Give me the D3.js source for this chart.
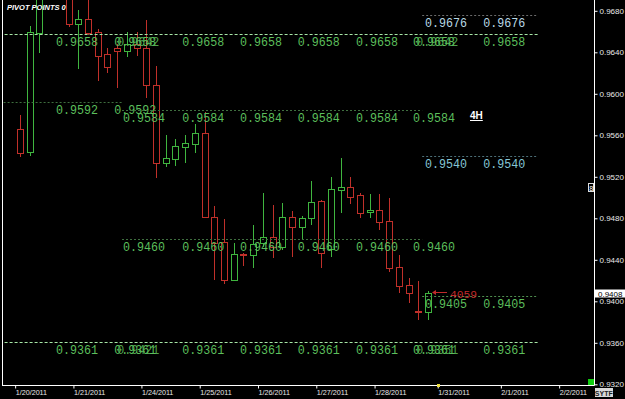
<!DOCTYPE html>
<html><head><meta charset="utf-8">
<script src="https://cdn.jsdelivr.net/npm/d3@7/dist/d3.min.js"></script>
<style>html,body{margin:0;padding:0;background:#000;overflow:hidden}</style>
</head><body>
<svg id="chart" width="625" height="399"></svg>
<script>
// ---------- DATA ----------
const title = "PIVOT POINTS 0";
const timeframe = "4H";
const barOpen  = [0.9566,0.9544,0.9659,0.9712,0.9716,0.9700,0.9667,0.9672,0.9660,0.9638,0.9644,0.9641,0.9648,0.9644,0.9608,0.9533,0.9537,0.9549,0.9552,0.9562,0.9481,0.9457,0.9421,0.9446,0.9445,0.9456,0.9462,0.9452,0.9481,0.9472,0.9480,0.9497,0.9450,0.9507,0.9510,0.9502,0.9486,0.9488,0.9477,0.9433,0.9416,0.9391,0.9390];
const barHigh  = [0.9580,0.9665,0.9720,0.9725,0.9722,0.9706,0.9681,0.9695,0.9662,0.9644,0.9648,0.9660,0.9660,0.9671,0.9627,0.9560,0.9556,0.9560,0.9571,0.9582,0.9492,0.9479,0.9456,0.9447,0.9474,0.9504,0.9493,0.9495,0.9487,0.9482,0.9516,0.9498,0.9520,0.9538,0.9520,0.9504,0.9503,0.9503,0.9500,0.9445,0.9422,0.9420,0.9410];
const barLow   = [0.9539,0.9540,0.9639,0.9700,0.9694,0.9664,0.9624,0.9657,0.9612,0.9620,0.9606,0.9635,0.9636,0.9596,0.9519,0.9529,0.9530,0.9533,0.9543,0.9480,0.9421,0.9417,0.9420,0.9434,0.9432,0.9452,0.9442,0.9449,0.9443,0.9459,0.9474,0.9432,0.9443,0.9485,0.9494,0.9480,0.9480,0.9469,0.9428,0.9408,0.9398,0.9382,0.9382];
const barClose = [0.9543,0.9660,0.9712,0.9716,0.9700,0.9667,0.9672,0.9659,0.9636,0.9626,0.9641,0.9648,0.9644,0.9608,0.9533,0.9538,0.9550,0.9553,0.9562,0.9481,0.9456,0.9421,0.9446,0.9445,0.9455,0.9462,0.9452,0.9481,0.9472,0.9480,0.9496,0.9447,0.9508,0.9510,0.9501,0.9485,0.9488,0.9476,0.9432,0.9415,0.9408,0.9390,0.9408];

const priceTicks = [0.9680,0.9640,0.9600,0.9560,0.9520,0.9480,0.9440,0.9400,0.9360,0.9320];
const dateLabels = ["1/20/2011","1/21/2011","1/24/2011","1/25/2011","1/26/2011","1/27/2011","1/28/2011","1/31/2011","2/1/2011","2/2/2011"];
const dateStartBar = [0,6,13,19,25,31,37,43.5,50,56];

// pivot levels: value, start bar, end bar, kind, label bars
const pivotValues = [0.9676,0.9658,0.9592,0.9584,0.9540,0.9460,0.9405,0.9361];
const pivotKinds  = ["res","main","dim","dim","sup","dim","cur","main"];
const pivotFrom   = [41.4,-2.1,-2.1,10.5,41.4,10.5,41.4,-2.1];
const pivotTo     = [53.3,53.3,10.5,41.4,53.3,41.4,53.3,53.3];
const pivotLabelBars = [
  [41.7,47.7],
  [3.7,9.7,16.7,22.65,28.6,34.6,40.45,47.7],
  [3.7,9.7],
  [10.6,16.7,22.65,28.6,34.6,40.45],
  [41.7,47.7],
  [10.6,16.7,22.65,28.6,34.6,40.45],
  [41.7,47.7],
  [3.7,9.7,16.7,22.65,28.6,34.6,40.45,47.7]
];
// overlapping labels of the previous period (drawn on top of some slots)
const ghostValues = [0.9642,0.9642,0.9421,0.9351];
const ghostLevel  = [0.9658,0.9658,0.9361,0.9361];
const ghostBars   = [10.0,40.8,10.0,40.8];

// ---------- DRAW ----------
const svg = d3.select("#chart");
const W = 625, H = 399;
const plot = {left:2, right:594, top:0, bottom:385};

const x = d3.scaleLinear().domain([0,42]).range([20,428]);
const y = d3.scaleLinear().domain([0.9680,0.9320]).range([10.8,384.3]);

svg.append("rect").attr("width",W).attr("height",H).attr("fill","#000");

svg.append("defs").append("clipPath").attr("id","clip")
  .append("rect").attr("x",plot.left+1).attr("y",plot.top)
  .attr("width",plot.right-plot.left-1).attr("height",plot.bottom-plot.top);

const g = svg.append("g").attr("clip-path","url(#clip)");

// candles
const green = "#3fb53f", red = "#c0302a";
const bars = d3.range(barOpen.length);
const cg = g.append("g");
bars.forEach(i=>{
  const cx = Math.round(x(i));
  const up = barClose[i] >= barOpen[i];
  const col = up ? green : red;
  const top = Math.round(y(Math.max(barOpen[i],barClose[i])));
  const bot = Math.round(y(Math.min(barOpen[i],barClose[i])));
  cg.append("line").attr("x1",cx+0.5).attr("x2",cx+0.5)
    .attr("y1",Math.round(y(barHigh[i]))).attr("y2",Math.round(y(barLow[i])))
    .attr("stroke",col).attr("stroke-width",1);
  cg.append("rect").attr("x",cx-2.5).attr("width",6)
    .attr("y",top+0.5).attr("height",Math.max(1,bot-top))
    .attr("fill","#000").attr("stroke",col).attr("stroke-width",1);
});

// pivot lines
const lineStyle = {
  main:{stroke:"#a6e6a6", dash:"3,2", label:"#5cbf5c"},
  dim:{stroke:"#3e6e3e", dash:"2,2", label:"#5cbf5c"},
  res:{stroke:"#6a6a6a", dash:"2,2", label:"#b9d9e6"},
  sup:{stroke:"#4d7078", dash:"2,2", label:"#86c6d6"},
  cur:{stroke:"#4f8f4f", dash:"2,2", label:"#5cbf5c"}
};
const pg = svg.append("g").attr("clip-path","url(#clip)");
pivotValues.forEach((v,k)=>{
  const st = lineStyle[pivotKinds[k]];
  const yy = Math.round(y(v))+0.5;
  pg.append("line").attr("x1",x(pivotFrom[k])).attr("x2",x(pivotTo[k]))
    .attr("y1",yy).attr("y2",yy).attr("stroke",st.stroke)
    .attr("stroke-dasharray",st.dash).attr("stroke-width",1);
  pivotLabelBars[k].forEach(b=>{
    pg.append("text").attr("x",x(b)).attr("y",yy+11.5)
      .attr("fill",st.label).attr("font-family","'Liberation Mono', 'DejaVu Sans Mono', monospace")
      .attr("font-size",12).attr("textLength",42).attr("lengthAdjust","spacingAndGlyphs")
      .text(v.toFixed(4));
  });
});
ghostValues.forEach((v,k)=>{
  pg.append("text").attr("x",x(ghostBars[k])).attr("y",Math.round(y(ghostLevel[k]))+12)
    .attr("fill","#5cbf5c").attr("opacity",0.85)
    .attr("font-family","'Liberation Mono', 'DejaVu Sans Mono', monospace")
    .attr("font-size",12).attr("textLength",42).attr("lengthAdjust","spacingAndGlyphs")
    .text(v.toFixed(4));
});

// red pointer near current pivot
const lastClose = barClose[barClose.length-1];
const ay = Math.round(y(pivotValues[6]))-3.5;
pg.append("line").attr("x1",x(42)+19).attr("x2",x(42)+5).attr("y1",ay).attr("y2",ay)
  .attr("stroke","#c02a2a").attr("stroke-width",1);
pg.append("path").attr("d",`M${x(42)+4},${ay} l4,-2.5 l0,5 z`).attr("fill","#c02a2a");
pg.append("text").attr("x",x(42)+22).attr("y",ay+5).attr("fill","#c02a2a")
  .attr("font-family","'Liberation Mono', monospace").attr("font-size",11)
  .attr("textLength",27).attr("lengthAdjust","spacingAndGlyphs").text("4059");

// frame
svg.append("line").attr("x1",plot.left+0.5).attr("x2",plot.left+0.5).attr("y1",0).attr("y2",plot.bottom+0.5).attr("stroke","#fff");
svg.append("line").attr("x1",plot.left).attr("x2",plot.right+0.5).attr("y1",plot.bottom+0.5).attr("y2",plot.bottom+0.5).attr("stroke","#fff");
svg.append("line").attr("x1",plot.right+0.5).attr("x2",plot.right+0.5).attr("y1",0).attr("y2",plot.bottom+0.5).attr("stroke","#fff");

// right axis
const ya = svg.append("g").attr("transform",`translate(${plot.right+0.5},0)`)
  .call(d3.axisRight(y).tickValues(priceTicks).tickFormat(d3.format(".4f")).tickSize(3).tickPadding(2));
ya.select(".domain").remove();
ya.selectAll("line").attr("stroke","#fff");
ya.selectAll("text").attr("fill","#e8e8e8").attr("font-family","Arial, 'Liberation Sans', sans-serif").attr("font-size",8).attr("dy","0.32em");

// bottom axis
const xa = svg.append("g").attr("transform",`translate(0,${plot.bottom+0.5})`)
  .call(d3.axisBottom(x).tickValues(dateStartBar.map(d=>d-0.5)).tickFormat((d,i)=>dateLabels[i]).tickSize(3));
xa.select(".domain").remove();
xa.selectAll("line").attr("stroke","#fff");
xa.selectAll("text").attr("fill","#e8e8e8").attr("font-family","Arial, 'Liberation Sans', sans-serif")
  .attr("font-size",7.2).attr("text-anchor","start").attr("y",0).attr("dy",9.8).attr("x",0);
// yellow marker at the session start
svg.append("rect").attr("x",Math.round(x(dateStartBar[7]-0.5))-1).attr("y",plot.bottom-1).attr("width",3).attr("height",3).attr("fill","#f0e040");

// current price box
const cy = y(lastClose);
svg.append("rect").attr("x",plot.right+1).attr("y",Math.round(cy)-3.5).attr("width",30).attr("height",8).attr("fill","#fff");
svg.append("text").attr("x",plot.right+4).attr("y",Math.round(cy)+3.5).attr("fill","#000")
  .attr("font-family","Arial, sans-serif").attr("font-size",8).text(lastClose.toFixed(4));

// title & timeframe
svg.append("text").attr("x",7).attr("y",10).attr("fill","#fff").attr("font-family","Arial, sans-serif")
  .attr("font-weight","bold").attr("font-style","italic").attr("font-size",7.5).text(title);
svg.append("text").attr("x",470).attr("y",119).attr("fill","#fff").attr("font-family","Arial, sans-serif")
  .attr("font-weight","bold").attr("font-size",10).attr("text-decoration","underline").text(timeframe);

// small widgets on the right
svg.append("rect").attr("x",588.5).attr("y",183.5).attr("width",5).attr("height",8).attr("fill","none").attr("stroke","#ddd");
svg.append("text").attr("x",589.3).attr("y",190.5).attr("fill","#fff").attr("font-family","Arial").attr("font-size",7).text("8");
svg.append("rect").attr("x",588).attr("y",379).attr("width",6).attr("height",6).attr("fill","#11cc11");
[["SY",595],["TF",604]].forEach(([t,xx])=>{
  svg.append("rect").attr("x",xx).attr("y",388).attr("width",9).attr("height",9).attr("fill","#d8d8d8");
  svg.append("text").attr("x",xx+4.5).attr("y",395.5).attr("text-anchor","middle").attr("fill","#222")
    .attr("font-family","Arial").attr("font-weight","bold").attr("font-size",7).text(t);
});
</script>
</body></html>
